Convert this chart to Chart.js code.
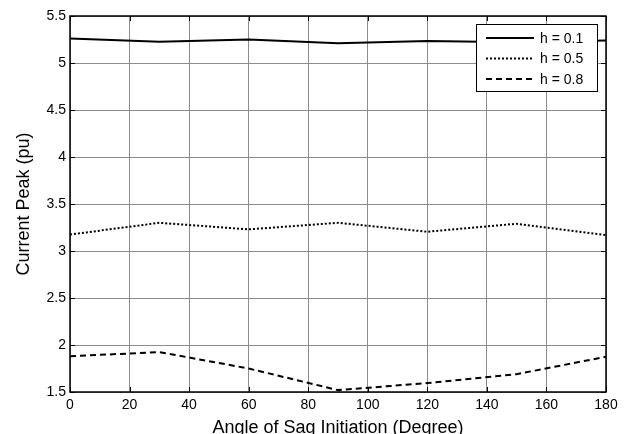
<!DOCTYPE html>
<html>
<head>
<meta charset="utf-8">
<script src="https://cdn.jsdelivr.net/npm/chart.js@4"></script>
<style>
  html, body { margin: 0; padding: 0; background: #fff; }
  #wrap { width: 628px; height: 434px; position: relative; }
</style>
</head>
<body>
<div id="wrap"><canvas id="sagChart"></canvas></div>
<script>
const angles = [0, 30, 60, 90, 120, 150, 180];
const peakH01 = [5.26, 5.225, 5.25, 5.21, 5.235, 5.22, 5.24];
const peakH05 = [3.175, 3.30, 3.23, 3.30, 3.205, 3.29, 3.17];
const peakH08 = [1.88, 1.925, 1.75, 1.52, 1.595, 1.69, 1.875];
const seriesLabels = ["h = 0.1", "h = 0.5", "h = 0.8"];

const FONT = "'Liberation Sans', Arial, sans-serif";

function toPoints(values) {
  return angles.map((a, i) => ({ x: a, y: values[i] }));
}

function lineDataset(label, values, dash) {
  return {
    label,
    data: toPoints(values),
    borderColor: "#000",
    borderWidth: 2,
    borderDash: dash,
    pointRadius: 0,
    tension: 0,
    fill: false
  };
}

// box border, inward ticks and the framed legend, like the old matlab figure
const framePlugin = {
  id: "frame",
  afterDatasetsDraw(chart) {
    const { ctx, chartArea: a, scales } = chart;
    ctx.save();
    ctx.strokeStyle = "#000";
    ctx.lineWidth = 1;
    ctx.setLineDash([]);
    ctx.beginPath();
    scales.x.ticks.forEach((t) => {
      const px = Math.round(scales.x.getPixelForValue(t.value)) + 0.5;
      ctx.moveTo(px, a.top); ctx.lineTo(px, a.top + 5);
      ctx.moveTo(px, a.bottom); ctx.lineTo(px, a.bottom - 5);
    });
    scales.y.ticks.forEach((t) => {
      const py = Math.round(scales.y.getPixelForValue(t.value)) + 0.5;
      ctx.moveTo(a.left, py); ctx.lineTo(a.left + 5, py);
      ctx.moveTo(a.right, py); ctx.lineTo(a.right - 5, py);
    });
    ctx.stroke();
    ctx.lineWidth = 1.5;
    ctx.strokeRect(a.left, a.top, a.right - a.left, a.bottom - a.top);

    // legend
    const bx = a.right - 130, by = a.top + 8, bw = 121, bh = 67;
    ctx.fillStyle = "#fff";
    ctx.fillRect(bx, by, bw, bh);
    ctx.lineWidth = 1;
    ctx.strokeRect(bx + 0.5, by + 0.5, bw, bh);
    ctx.font = "14px " + FONT;
    ctx.textBaseline = "middle";
    chart.data.datasets.forEach((ds, i) => {
      const ly = by + 14 + i * 20.5;
      ctx.beginPath();
      ctx.lineWidth = 2;
      ctx.setLineDash(ds.borderDash || []);
      ctx.moveTo(bx + 10, ly);
      ctx.lineTo(bx + 58, ly);
      ctx.stroke();
      ctx.setLineDash([]);
      ctx.fillStyle = "#000";
      ctx.fillText(ds.label, bx + 64, ly + 1);
    });
    ctx.restore();
  }
};

new Chart(document.getElementById("sagChart"), {
  type: "line",
  data: {
    datasets: [
      lineDataset(seriesLabels[0], peakH01, []),
      lineDataset(seriesLabels[1], peakH05, [2, 2]),
      lineDataset(seriesLabels[2], peakH08, [6, 4])
    ]
  },
  options: {
    responsive: true,
    maintainAspectRatio: false,
    animation: false,
    layout: { padding: { top: 16, right: 22, left: 0, bottom: 0 } },
    plugins: { legend: { display: false }, tooltip: { enabled: false } },
    scales: {
      x: {
        type: "linear",
        min: 0,
        max: 180,
        afterFit: (s) => { s.height = 42; },
        ticks: { stepSize: 20, color: "#000", padding: 5, font: { family: FONT, size: 14 } },
        grid: { color: "#8c8c8c", lineWidth: 1, drawTicks: false },
        border: { display: false },
        title: {
          display: true,
          text: "Angle of Sag Initiation (Degree)",
          color: "#000",
          font: { family: FONT, size: 18 },
          padding: { top: 0, bottom: -5 }
        }
      },
      y: {
        min: 1.5,
        max: 5.5,
        afterFit: (s) => { s.width = 70; },
        ticks: {
          stepSize: 0.5,
          color: "#000",
          padding: 4,
          font: { family: FONT, size: 14 },
          callback: (v) => String(v)
        },
        grid: { color: "#8c8c8c", lineWidth: 1, drawTicks: false },
        border: { display: false },
        title: {
          display: true,
          text: "Current Peak (pu)",
          color: "#000",
          font: { family: FONT, size: 18 },
          padding: { top: 13, bottom: 0 }
        }
      }
    }
  },
  plugins: [framePlugin]
});
</script>
</body>
</html>
